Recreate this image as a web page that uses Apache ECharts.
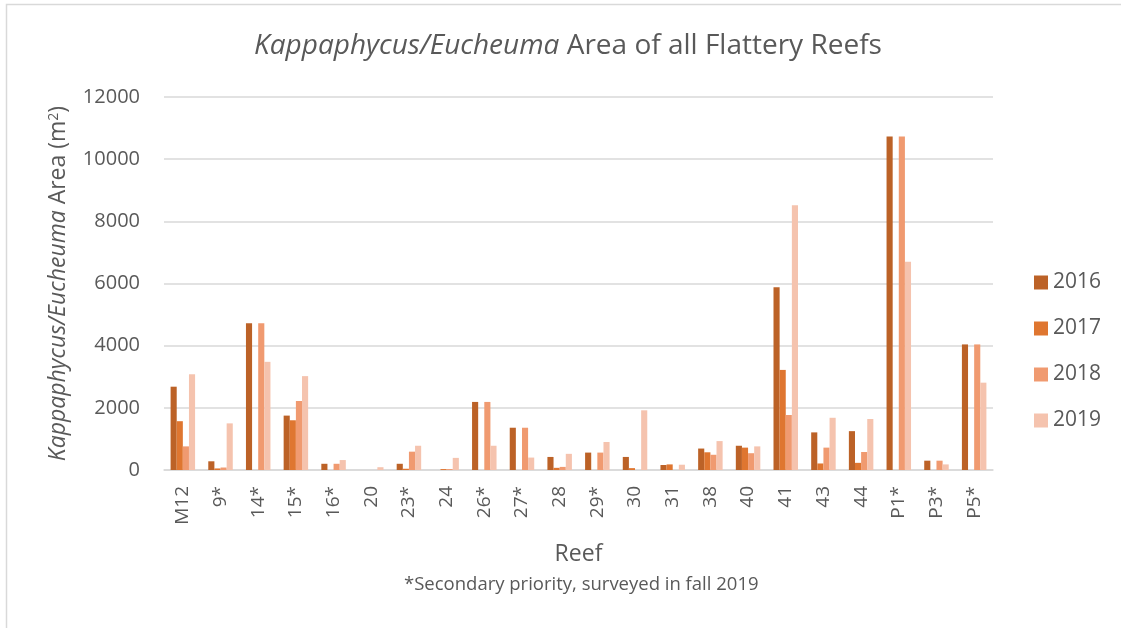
<!DOCTYPE html>
<html>
<head>
<meta charset="utf-8">
<script src="https://cdn.jsdelivr.net/npm/echarts@6/dist/echarts.min.js"></script>
<style>
html,body{margin:0;padding:0;background:#fff;}
#chart{width:1121px;height:628px;}
</style>
</head>
<body>
<div id="chart"></div>
<script>
const categories = ['M12','9*','14*','15*','16*','20','23*','24','26*','27*','28','29*','30','31','38','40','41','43','44','P1*','P3*','P5*'];
const years = ['2016','2017','2018','2019'];
const v2016 = [2680, 280, 4720, 1750, 200, 0, 200, 0, 2190, 1360, 420, 560, 420, 160, 690, 780, 5880, 1210, 1250, 10730, 300, 4040];
const v2017 = [1570, 50, 0, 1600, 0, 0, 40, 30, 0, 0, 70, 0, 60, 180, 570, 720, 3220, 210, 230, 0, 0, 0];
const v2018 = [760, 80, 4720, 2220, 200, 0, 590, 30, 2190, 1360, 100, 560, 0, 0, 490, 540, 1770, 720, 580, 10730, 300, 4040];
const v2019 = [3080, 1500, 3480, 3020, 320, 90, 780, 390, 780, 400, 520, 900, 1920, 170, 930, 760, 8520, 1680, 1640, 6700, 180, 2810];
const yTicks = [0, 2000, 4000, 6000, 8000, 10000, 12000];
const colors = ['#BC6227', '#DF7630', '#F09A70', '#F5C3AE'];

const chart = echarts.init(document.getElementById('chart'));
const font = 'Open Sans, Liberation Sans, sans-serif';
const seriesData = [v2016, v2017, v2018, v2019];

chart.setOption({
  animation: false,
  textStyle: { fontFamily: font, color: '#595959' },
  title: [{
    text: '*Secondary priority, surveyed in fall 2019',
    left: 399, top: 570,
    textStyle: { fontFamily: font, fontWeight: 'normal', fontSize: 18.5, color: '#595959' }
  }],
  graphic: [{
    type: 'rect', silent: true,
    shape: { x: 6.5, y: 4.5, width: 1140, height: 640 },
    style: { fill: 'none', stroke: '#d9d9d9', lineWidth: 1.5 }
  }, {
    type: 'text', silent: true, x: 568, y: 46,
    style: {
      text: '{i|Kappaphycus/Eucheuma} Area of all Flattery Reefs',
      align: 'center', verticalAlign: 'middle',
      fontFamily: font, fontSize: 28, fill: '#595959',
      rich: { i: { fontStyle: 'italic', fontSize: 28, fill: '#595959', fontFamily: font } }
    }
  }],
  legend: {
    orient: 'vertical', left: 1029, top: 267,
    itemWidth: 14, itemHeight: 14, itemGap: 25,
    icon: 'rect',
    textStyle: { fontSize: 21, color: '#595959', fontFamily: font },
    data: years
  },
  grid: { left: 164, right: 128, top: 97, bottom: 158, containLabel: false },
  xAxis: {
    type: 'category', data: categories,
    name: 'Reef', nameLocation: 'middle', nameGap: 73,
    nameTextStyle: { fontSize: 23, color: '#595959', fontFamily: font },
    axisLine: { lineStyle: { color: '#d9d9d9', width: 1.5 } },
    axisTick: { show: false },
    axisLabel: { rotate: 90, fontSize: 19, color: '#595959', margin: 16, interval: 0, fontFamily: font }
  },
  yAxis: {
    type: 'value', min: 0, max: 12000, interval: 2000,
    name: '{i|Kappaphycus/Eucheuma} Area (m{s|2})',
    nameLocation: 'middle', nameGap: 94, nameRotate: 90,
    nameTextStyle: {
      fontSize: 23, color: '#595959', fontFamily: font,
      rich: {
        i: { fontStyle: 'italic', fontSize: 23, color: '#595959', fontFamily: font },
        s: { fontSize: 14, color: '#595959', verticalAlign: 'top', padding: [0, 0, 9, 0], fontFamily: font }
      }
    },
    axisLine: { show: false },
    axisTick: { show: false },
    splitLine: { lineStyle: { color: '#d9d9d9', width: 1.5 } },
    axisLabel: {
      fontSize: 20, color: '#595959', margin: 24, fontFamily: font,
      formatter: function (v) { return yTicks.indexOf(v) >= 0 ? String(v) : ''; }
    }
  },
  series: years.map(function (y, i) {
    return {
      name: y, type: 'bar', data: seriesData[i],
      barGap: '0%', barCategoryGap: '35%',
      itemStyle: { color: colors[i] }
    };
  })
});
</script>
</body>
</html>
